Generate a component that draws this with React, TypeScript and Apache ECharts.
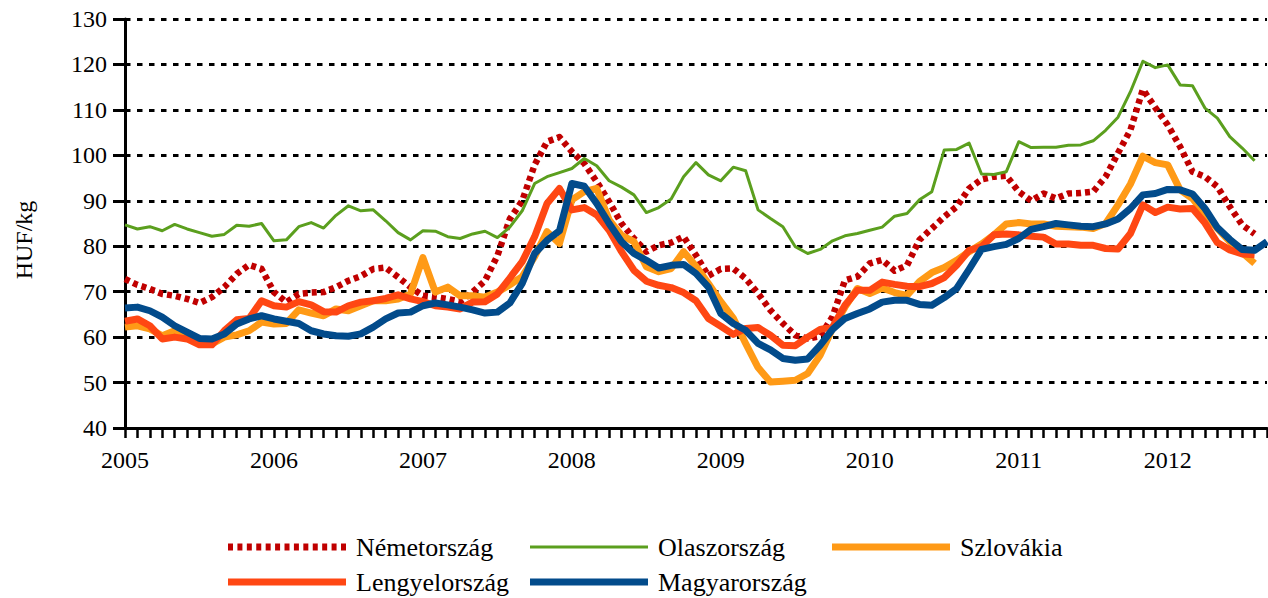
import React, { useEffect, useRef } from 'react';
import * as echarts from 'echarts';

const YEARS = ['2005', '2006', '2007', '2008', '2009', '2010', '2011', '2012'];
const MONTHS = ['01', '02', '03', '04', '05', '06', '07', '08', '09', '10', '11', '12'];
const LAST_MONTH_INDEX = 8; // 2012-09

const NEMETORSZAG = [
  72.8, 71.5, 70.6, 69.5, 69.1, 68.4, 67.5, 68.8, 71.0, 73.9, 75.9, 75.0,
  69.9, 67.7, 69.5, 69.8, 69.9, 71.0, 72.4, 73.4, 75.0, 75.3, 73.2, 71.0,
  69.1, 68.8, 68.4, 67.8, 69.9, 72.4, 77.9, 86.0, 90.0, 97.9, 103.0, 104.0,
  100.8, 98.2, 94.2, 89.8, 85.0, 81.7, 78.8, 80.2, 80.8, 82.1, 78.0, 73.5,
  75.0, 75.1, 72.9, 69.6, 65.9, 63.0, 60.4, 59.7, 60.2, 64.5, 72.5, 73.3,
  76.2, 77.0, 74.6, 75.8, 81.4, 83.9, 86.5, 88.7, 92.7, 94.7, 95.3, 95.5,
  92.0, 90.0, 91.6, 90.5, 91.6, 91.7, 92.0, 95.3, 100.5, 105.6, 114.5, 110.5,
  106.7, 101.9, 96.4, 95.3, 93.1, 88.7, 84.7, 82.7,
];

const OLASZORSZAG = [
  84.7, 83.8, 84.3, 83.4, 84.8, 83.8, 83.0, 82.2, 82.6, 84.6, 84.4, 85.0,
  81.2, 81.4, 84.3, 85.2, 84.0, 86.8, 88.9, 87.8, 88.0, 85.6, 83.0, 81.4,
  83.4, 83.3, 82.1, 81.7, 82.7, 83.3, 81.9, 84.2, 87.8, 93.8, 95.3, 96.2,
  97.1, 99.3, 97.7, 94.4, 93.0, 91.3, 87.4, 88.5, 90.4, 95.3, 98.4, 95.7,
  94.4, 97.4, 96.6, 88.0, 86.1, 84.3, 79.9, 78.4, 79.3, 81.2, 82.3, 82.8,
  83.5, 84.2, 86.6, 87.2, 90.2, 92.0, 101.2, 101.3, 102.7, 95.9, 95.8, 96.4,
  103.0, 101.7, 101.8, 101.8, 102.2, 102.3, 103.2, 105.5, 108.4, 114.0, 120.7, 119.3,
  119.9, 115.5, 115.3, 110.4, 108.2, 104.1, 101.6, 98.8,
];

const SZLOVAKIA = [
  62.2, 62.5, 61.8, 60.3, 61.4, 60.0, 58.7, 58.5, 60.0, 60.5, 61.4, 63.3,
  62.9, 63.0, 66.0, 65.3, 64.7, 66.2, 65.8, 66.9, 68.0, 68.0, 68.4, 69.5,
  77.5, 69.9, 71.0, 69.1, 69.1, 68.8, 69.9, 71.5, 73.3, 77.7, 83.2, 80.6,
  90.2, 92.0, 92.7, 85.8, 82.4, 81.0, 75.5, 74.4, 75.1, 78.8, 75.6, 71.8,
  67.8, 64.2, 58.6, 53.3, 50.1, 50.3, 50.5, 52.0, 56.0, 61.9, 66.6, 70.7,
  69.6, 70.8, 69.8, 69.2, 72.2, 74.2, 75.3, 76.9, 78.8, 80.5, 82.5, 84.9,
  85.2, 84.9, 84.9, 84.4, 84.3, 84.2, 83.9, 85.0, 89.1, 93.7, 99.8, 98.4,
  97.9, 92.4, 90.5, 86.9, 83.9, 81.0, 78.6, 76.2,
];

const LENGYELORSZAG = [
  63.5, 64.0, 62.5, 59.6, 60.0, 59.6, 58.3, 58.3, 61.4, 63.8, 64.1, 68.0,
  66.9, 66.6, 67.8, 67.1, 65.6, 65.5, 66.9, 67.7, 68.0, 68.5, 69.3, 68.4,
  67.8, 66.9, 66.6, 66.2, 67.7, 67.8, 69.5, 73.0, 76.6, 82.1, 89.4, 92.7,
  88.0, 88.5, 86.9, 83.5, 78.8, 74.7, 72.3, 71.4, 70.9, 69.8, 68.0, 64.1,
  62.4, 60.6, 61.9, 62.1, 60.4, 58.2, 58.1, 60.0, 61.7, 62.2, 67.0, 70.3,
  70.3, 72.1, 71.6, 71.2, 71.1, 71.8, 73.1, 75.8, 79.1, 79.9, 82.5, 82.7,
  82.5, 82.2, 82.0, 80.5, 80.5, 80.2, 80.2, 79.5, 79.4, 82.8, 89.1, 87.4,
  88.6, 88.2, 88.3, 85.1, 80.8, 79.2, 78.3, 78.1,
];

const MAGYARORSZAG = [
  66.4, 66.6, 65.8, 64.4, 62.5, 61.1, 59.7, 59.6, 60.7, 62.9, 64.0, 64.7,
  64.0, 63.5, 63.0, 61.4, 60.7, 60.3, 60.2, 60.7, 62.2, 64.0, 65.3, 65.5,
  66.9, 67.5, 67.1, 66.6, 66.0, 65.3, 65.5, 67.5, 71.8, 78.4, 81.3, 83.4,
  93.8, 93.2, 89.4, 85.0, 81.0, 78.4, 76.9, 75.2, 75.8, 76.0, 74.0, 71.0,
  65.2, 63.0, 61.5, 58.6, 57.2, 55.3, 54.9, 55.2, 58.2, 61.7, 64.1, 65.2,
  66.2, 67.7, 68.1, 68.1, 67.2, 67.0, 68.7, 70.7, 74.9, 79.3, 79.9, 80.4,
  81.7, 83.7, 84.3, 85.0, 84.7, 84.4, 84.3, 84.9, 86.0, 88.3, 91.3, 91.6,
  92.5, 92.4, 91.5, 88.3, 84.1, 81.5, 79.3, 79.1, 81.0,
];

const CATEGORIES: string[] = [];
YEARS.forEach((y, yi) => {
  MONTHS.forEach((m, mi) => {
    if (yi < YEARS.length - 1 || mi <= LAST_MONTH_INDEX) CATEGORIES.push(y + '-' + m);
  });
});

const FONT = "'Liberation Serif', 'Times New Roman', serif";

const ICON_W = 118;

function barIcon(h: number) {
  return 'path://M0,0H' + ICON_W + 'V' + h + 'H0Z';
}

function dashIcon(h: number, count: number, dash: number) {
  const gap = (ICON_W - count * dash) / (count - 1);
  let d = 'path://';
  for (let k = 0; k < count; k++) {
    const x0 = k * (dash + gap);
    d += 'M' + x0.toFixed(2) + ',0H' + (x0 + dash).toFixed(2) + 'V' + h + 'H' + x0.toFixed(2) + 'Z';
  }
  return d;
}

export default function App() {
  const ref = useRef<HTMLDivElement>(null);

  useEffect(() => {
    if (!ref.current) return;
    const chart = echarts.init(ref.current, undefined, { renderer: 'svg' });

    const legendBase = (h: number) => ({
      orient: 'horizontal',
      itemWidth: ICON_W,
      itemHeight: h,
      padding: 0,
      itemGap: 0,
      selectedMode: false,
      symbolKeepAspect: false,
      textStyle: { fontFamily: FONT, fontSize: 26, color: '#000', padding: [0, 0, 0, 5] },
    });

    const mk = (name: string, data: number[], color: string, width: number, type: any) => ({
      name,
      type: 'line',
      data,
      symbol: 'none',
      smooth: false,
      lineStyle: { color, width, type, cap: 'butt', join: 'round' },
      itemStyle: { color },
    });

    chart.setOption({
      animation: false,
      backgroundColor: '#ffffff',
      grid: { left: 125, right: 1, top: 19, bottom: 170 },
      xAxis: {
        type: 'category',
        data: CATEGORIES,
        boundaryGap: false,
        axisLine: { onZero: false, lineStyle: { color: '#000', width: 3 } },
        axisTick: { show: true, interval: 0, length: 10, lineStyle: { color: '#000', width: 2.5 } },
        axisLabel: {
          interval: (i: number) => i % 12 === 0,
          formatter: (v: string) => v.slice(0, 4),
          fontFamily: FONT,
          fontSize: 24,
          color: '#000',
          margin: 20,
        },
        splitLine: { show: false },
      },
      yAxis: {
        type: 'value',
        min: 40,
        max: 130,
        interval: 10,
        axisLine: { show: true, lineStyle: { color: '#000', width: 3 } },
        axisTick: { show: true, length: 12, lineStyle: { color: '#000', width: 3 } },
        axisLabel: { fontFamily: FONT, fontSize: 24, color: '#000', margin: 18 },
        splitLine: { show: true, lineStyle: { color: '#000', width: 3, type: [5.5, 6.5] } },
      },
      legend: [
        { ...legendBase(7), data: [{ name: 'Németország', icon: dashIcon(7, 13, 5) }], left: 228, top: 534 },
        { ...legendBase(3), data: [{ name: 'Olaszország', icon: barIcon(3) }], left: 530, top: 534 },
        { ...legendBase(7), data: [{ name: 'Szlovákia', icon: barIcon(7) }], left: 832, top: 534 },
        { ...legendBase(7), data: [{ name: 'Lengyelország', icon: barIcon(7) }], left: 228, top: 569 },
        { ...legendBase(7), data: [{ name: 'Magyarország', icon: barIcon(7) }], left: 530, top: 569 },
      ],
      graphic: [
        {
          type: 'text',
          x: 24,
          y: 240,
          rotation: Math.PI / 2,
          style: {
            text: 'HUF/kg',
            fontFamily: FONT,
            fontSize: 24,
            fill: '#000',
            align: 'center',
            verticalAlign: 'middle',
          },
        },
      ],
      series: [
        mk('Németország', NEMETORSZAG, '#C00000', 6.5, [5, 4]),
        mk('Olaszország', OLASZORSZAG, '#5B9F1E', 3, 'solid'),
        mk('Szlovákia', SZLOVAKIA, '#FF9A16', 7, 'solid'),
        mk('Lengyelország', LENGYELORSZAG, '#FF4713', 7, 'solid'),
        mk('Magyarország', MAGYARORSZAG, '#024B8B', 7, 'solid'),
      ],
    });

    return () => chart.dispose();
  }, []);

  return (
    <div
      style={{
        position: 'absolute',
        left: 0,
        top: 0,
        width: 1268,
        height: 598,
        overflow: 'hidden',
        background: '#fff',
      }}
    >
      <div ref={ref} style={{ width: 1268, height: 598 }} />
    </div>
  );
}
